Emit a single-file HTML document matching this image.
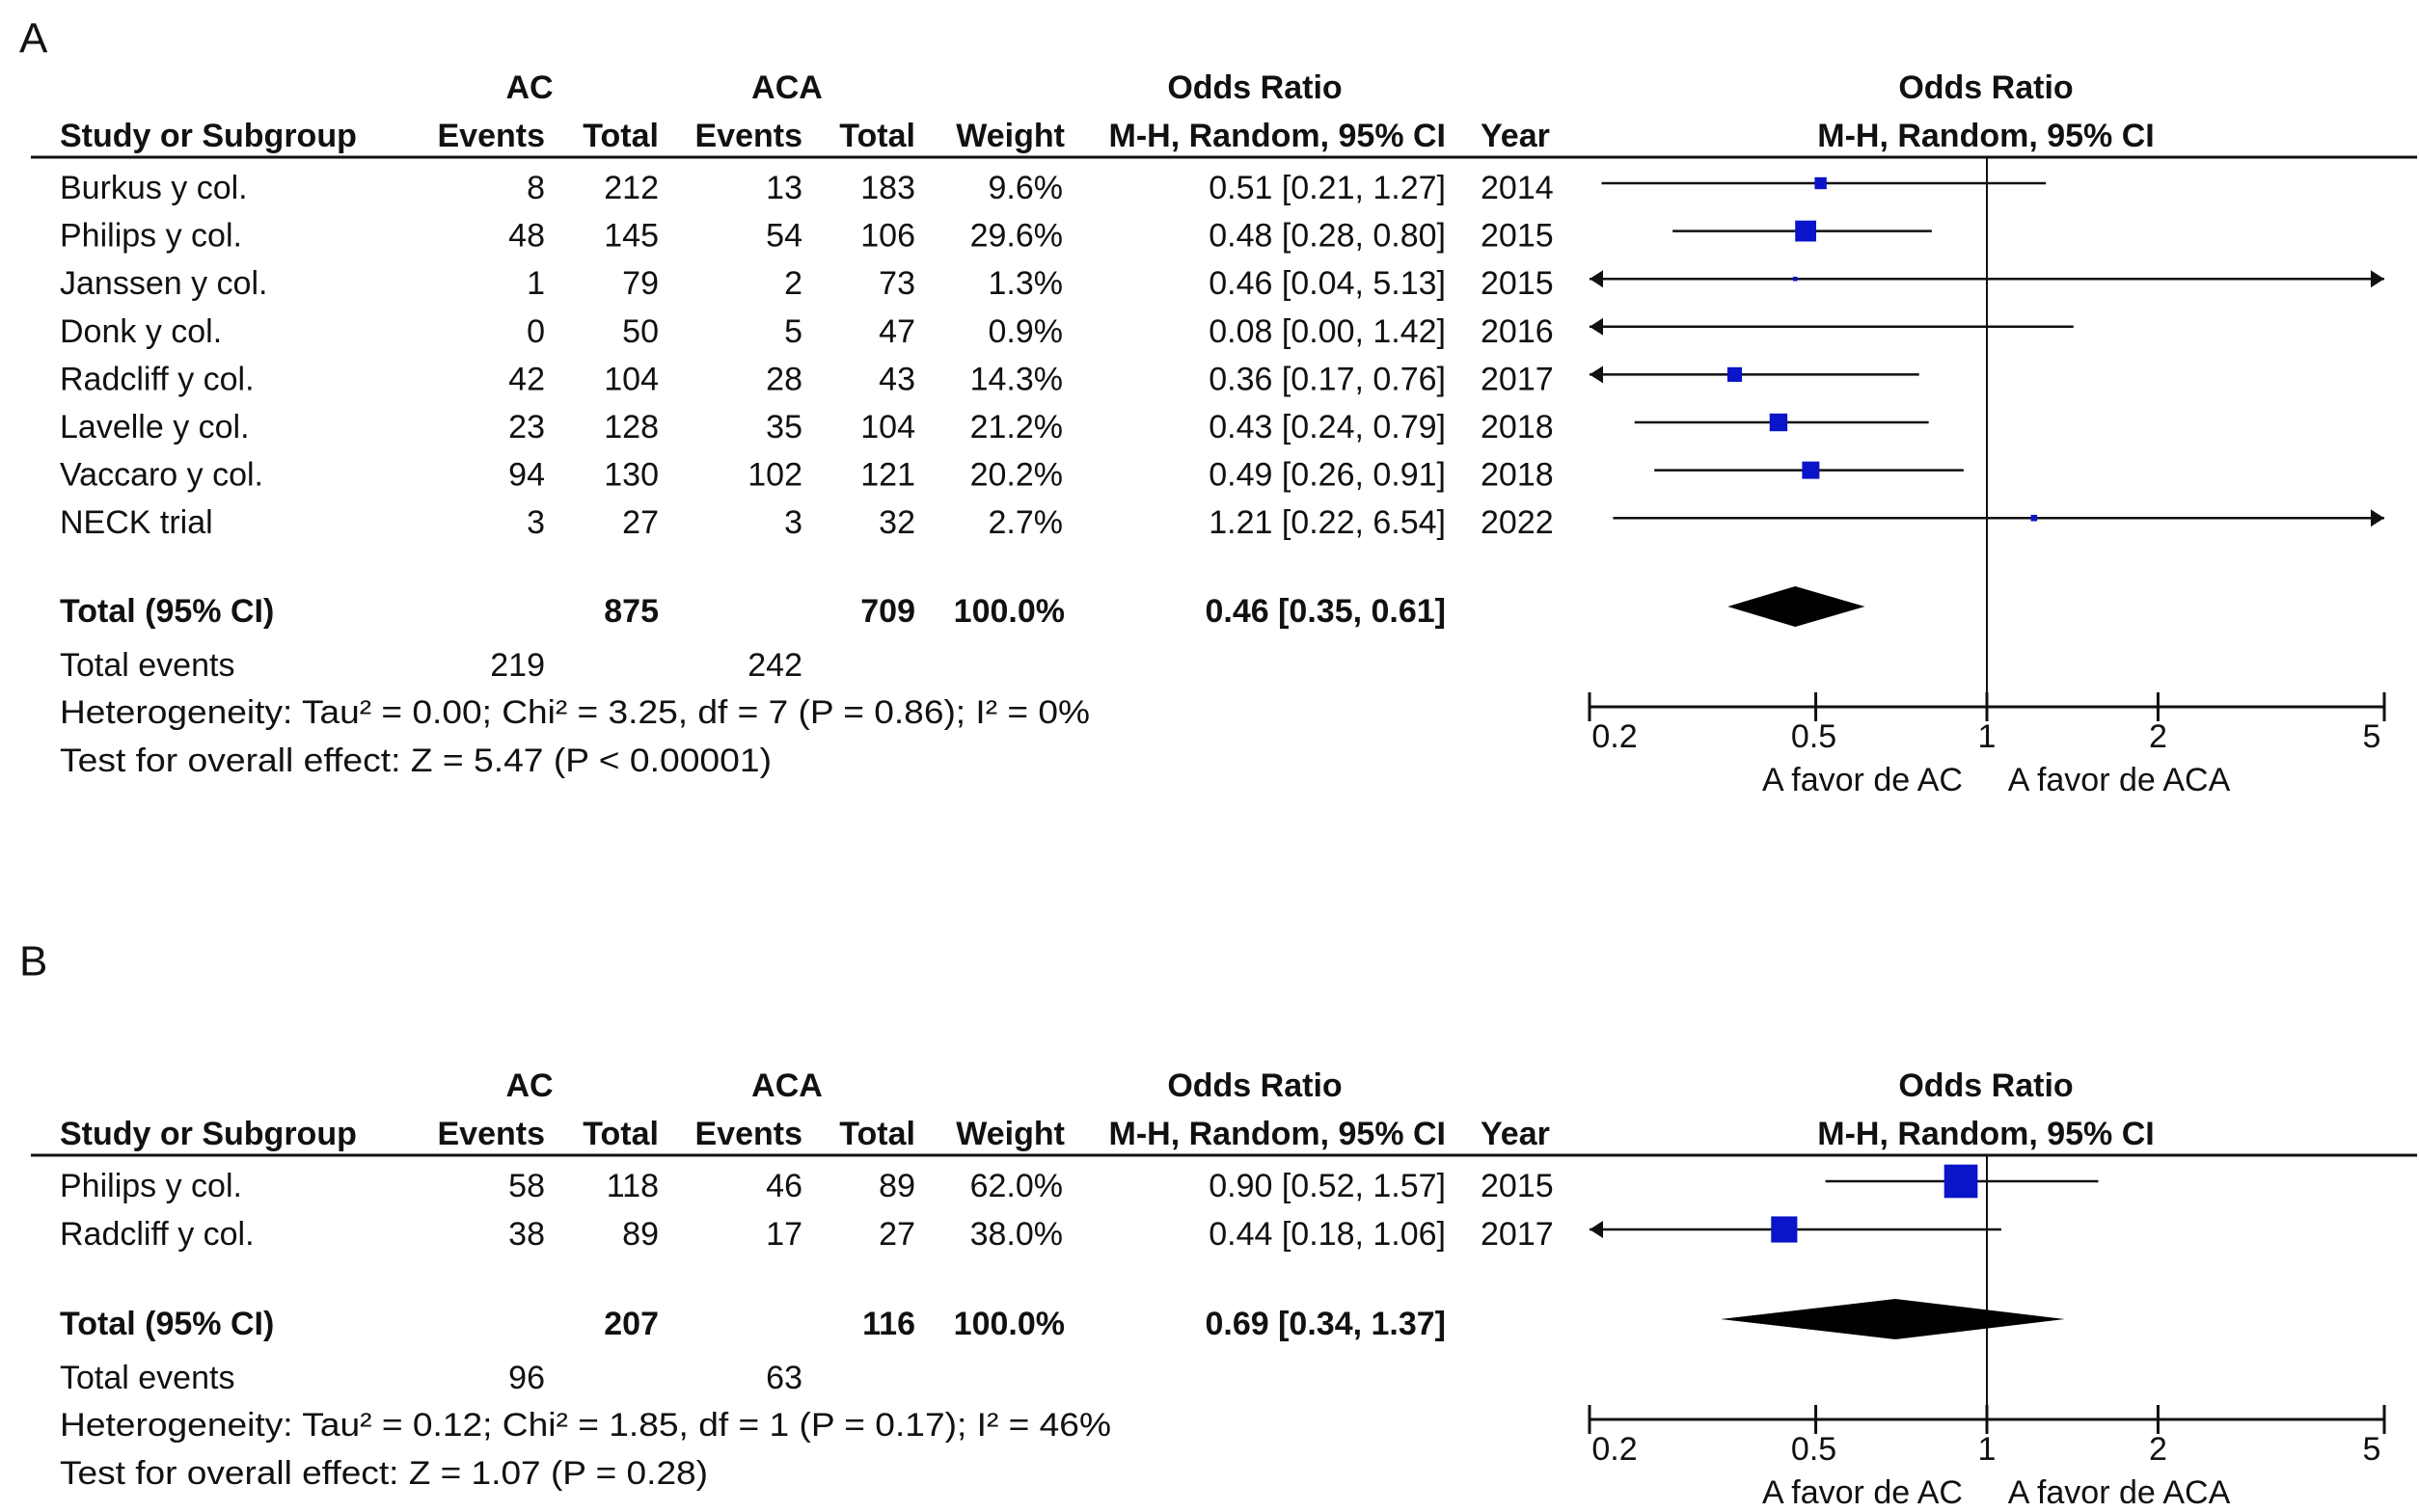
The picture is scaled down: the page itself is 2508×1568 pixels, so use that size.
<!DOCTYPE html>
<html><head><meta charset="utf-8"><style>
html,body{margin:0;padding:0;background:#fff;}
svg{display:block;}
text{font-family:"Liberation Sans",Arial,sans-serif;font-size:34px;fill:#111;}
.b{font-weight:bold;}
.big{font-size:44px;}
</style></head><body>
<svg id="fig" width="2508" height="1568" viewBox="0 0 2508 1568"></svg>
<script>
// Panel A data
const namesA=["Burkus y col.","Philips y col.","Janssen y col.","Donk y col.","Radcliff y col.","Lavelle y col.","Vaccaro y col.","NECK trial"];
const acEvA=[8,48,1,0,42,23,94,3];
const acTotA=[212,145,79,50,104,128,130,27];
const acaEvA=[13,54,2,5,28,35,102,3];
const acaTotA=[183,106,73,47,43,104,121,32];
const weightA=[9.6,29.6,1.3,0.9,14.3,21.2,20.2,2.7];
const orA=[0.51,0.48,0.46,0.08,0.36,0.43,0.49,1.21];
const loA=[0.21,0.28,0.04,0.00,0.17,0.24,0.26,0.22];
const hiA=[1.27,0.80,5.13,1.42,0.76,0.79,0.91,6.54];
const yearA=[2014,2015,2015,2016,2017,2018,2018,2022];
const totalA=[875,709,0.46,0.35,0.61,219,242];
// Panel B data
const namesB=["Philips y col.","Radcliff y col."];
const acEvB=[58,38];
const acTotB=[118,89];
const acaEvB=[46,17];
const acaTotB=[89,27];
const weightB=[62.0,38.0];
const orB=[0.90,0.44];
const loB=[0.52,0.18];
const hiB=[1.57,1.06];
const yearB=[2015,2017];
const totalB=[207,116,0.69,0.34,1.37,96,63];
const ticks=[0.2,0.5,1,2,5];

const svg=document.getElementById('fig');
const NS='http://www.w3.org/2000/svg';
function el(tag,attrs,parent){const e=document.createElementNS(NS,tag);for(const k in attrs)e.setAttribute(k,attrs[k]);(parent||svg).appendChild(e);return e;}
function txt(s,x,y,anchor,cls,name,len){const t=el('text',{x:x,y:y,'text-anchor':anchor||'start','dominant-baseline':'central'});if(cls)t.setAttribute('class',cls);if(len){t.setAttribute('textLength',len);t.setAttribute('lengthAdjust','spacingAndGlyphs');}


t.textContent=s;return t;}
const X0=2060,HW=412;
function xs(v){return X0+HW*Math.log10(v)/Math.log10(5);}
function f2(v){return v.toFixed(2);}

function panel(o){
  txt(o.letter,20,o.letterY,'start','big','panel-label');
  const h1=o.h1,h2=o.h1+50;
  txt('AC',549,h1,'middle','b','ac-group-header');
  txt('ACA',816,h1,'middle','b','aca-group-header');
  txt('Odds Ratio',1301,h1,'middle','b','odds-ratio-header');
  txt('Odds Ratio',2059,h1,'middle','b','plot-odds-ratio-header');
  txt('Study or Subgroup',62,h2,'start','b','study-header');
  txt('Events',565,h2,'end','b','ac-events-header');
  txt('Total',683,h2,'end','b','ac-total-header');
  txt('Events',832,h2,'end','b','aca-events-header');
  txt('Total',949,h2,'end','b','aca-total-header');
  txt('Weight',1104,h2,'end','b','weight-header');
  txt('M-H, Random, 95% CI',1499,h2,'end','b','method-header');
  txt('Year',1535,h2,'start','b','year-header');
  txt('M-H, Random, 95% CI',2059,h2,'middle','b','plot-method-header');
  const ly=h2+22;
  el('line',{x1:32,y1:ly,x2:2506,y2:ly,stroke:'#111','stroke-width':3});
  const axisY=o.axisY;
  const vl=el('line',{x1:xs(1),y1:ly,x2:xs(1),y2:axisY,stroke:'#111','stroke-width':2});
  
  
  const n=o.names.length;
  for(let i=0;i<n;i++){
    const y=o.r0+i*o.step;
    txt(o.names[i],62,y,'start','','study-name');
    txt(String(o.acEv[i]),565,y,'end','','ac-events');
    txt(String(o.acTot[i]),683,y,'end','','ac-total');
    txt(String(o.acaEv[i]),832,y,'end','','aca-events');
    txt(String(o.acaTot[i]),949,y,'end','','aca-total');
    txt(o.w[i].toFixed(1)+'%',1102,y,'end','','weight');
    txt(f2(o.or[i])+' ['+f2(o.lo[i])+', '+f2(o.hi[i])+']',1499,y,'end','','odds-ratio-ci');
    txt(String(o.yr[i]),1535,y,'start','','year');
    const cy=y-5;
    const lo=Math.max(o.lo[i],0.2),hi=Math.min(o.hi[i],5);
    const l=el('line',{x1:xs(lo),y1:cy,x2:xs(hi),y2:cy,stroke:'#111','stroke-width':2.5});
    
    
    if(o.lo[i]<0.2){const a=el('polygon',{points:`${xs(0.2)},${cy} ${xs(0.2)+14},${cy-9} ${xs(0.2)+14},${cy+9}`,fill:'#111'});
      
      }
    if(o.hi[i]>5){const a=el('polygon',{points:`${xs(5)},${cy} ${xs(5)-14},${cy-9} ${xs(5)-14},${cy+9}`,fill:'#111'});
      
      }
    if(o.or[i]>=0.2 && o.or[i]<=5){
      const s=Math.max(4,o.k*Math.sqrt(o.w[i]));
      const sq=el('rect',{x:xs(o.or[i])-s/2,y:cy-s/2,width:s,height:s,fill:'#0a14c8'});
      
      
    }
  }
  const t=o.tot, ty=o.totY;
  txt('Total (95% CI)',62,ty,'start','b','total-label');
  txt(String(t[0]),683,ty,'end','b','ac-total-sum');
  txt(String(t[1]),949,ty,'end','b','aca-total-sum');
  txt('100.0%',1104,ty,'end','b','total-weight');
  txt(f2(t[2])+' ['+f2(t[3])+', '+f2(t[4])+']',1499,ty,'end','b','pooled-odds-ratio');
  const dy=ty-5;
  const d=el('polygon',{points:`${xs(t[3])},${dy} ${xs(t[2])},${dy-21} ${xs(t[4])},${dy} ${xs(t[2])},${dy+21}`,fill:'#000'});
  
  
  txt('Total events',62,ty+56,'start','','total-events-label');
  txt(String(t[5]),565,ty+56,'end','','ac-total-events');
  txt(String(t[6]),832,ty+56,'end','','aca-total-events');
  txt(o.het,62,ty+105,'start','','heterogeneity-text',o.hetLen);
  txt(o.test,62,ty+155,'start','','overall-effect-text',o.testLen);
  const ax=el('line',{x1:xs(0.2),y1:axisY,x2:xs(5),y2:axisY,stroke:'#111','stroke-width':3});
  
  
  const lblOff={0.2:26,0.5:-2,1:0,2:0,5:-13};
  for(const v of ticks){
    const tk=el('line',{x1:xs(v),y1:axisY-15,x2:xs(v),y2:axisY+15,stroke:'#111','stroke-width':3});
    
    
    txt(String(v),xs(v)+lblOff[v],axisY+31,'middle','','x-tick-label');
  }
  txt('A favor de AC',1931,axisY+76,'middle','','favours-ac-label');
  txt('A favor de ACA',2197,axisY+76,'middle','','favours-aca-label');
}
panel({id:'panel-a',letter:'A',letterY:40,h1:91,r0:195,step:49.6,axisY:733,totY:634,
 names:namesA,acEv:acEvA,acTot:acTotA,acaEv:acaEvA,acaTot:acaTotA,w:weightA,or:orA,lo:loA,hi:hiA,yr:yearA,tot:totalA,k:4.0,
 het:'Heterogeneity: Tau² = 0.00; Chi² = 3.25, df = 7 (P = 0.86); I² = 0%',hetLen:1068,
 test:'Test for overall effect: Z = 5.47 (P < 0.00001)',testLen:738});
panel({id:'panel-b',letter:'B',letterY:997,h1:1126,r0:1230,step:50,axisY:1472,totY:1373,
 names:namesB,acEv:acEvB,acTot:acTotB,acaEv:acaEvB,acaTot:acaTotB,w:weightB,or:orB,lo:loB,hi:hiB,yr:yearB,tot:totalB,k:4.4,
 het:'Heterogeneity: Tau² = 0.12; Chi² = 1.85, df = 1 (P = 0.17); I² = 46%',hetLen:1090,
 test:'Test for overall effect: Z = 1.07 (P = 0.28)',testLen:672});
</script>
</body></html>
